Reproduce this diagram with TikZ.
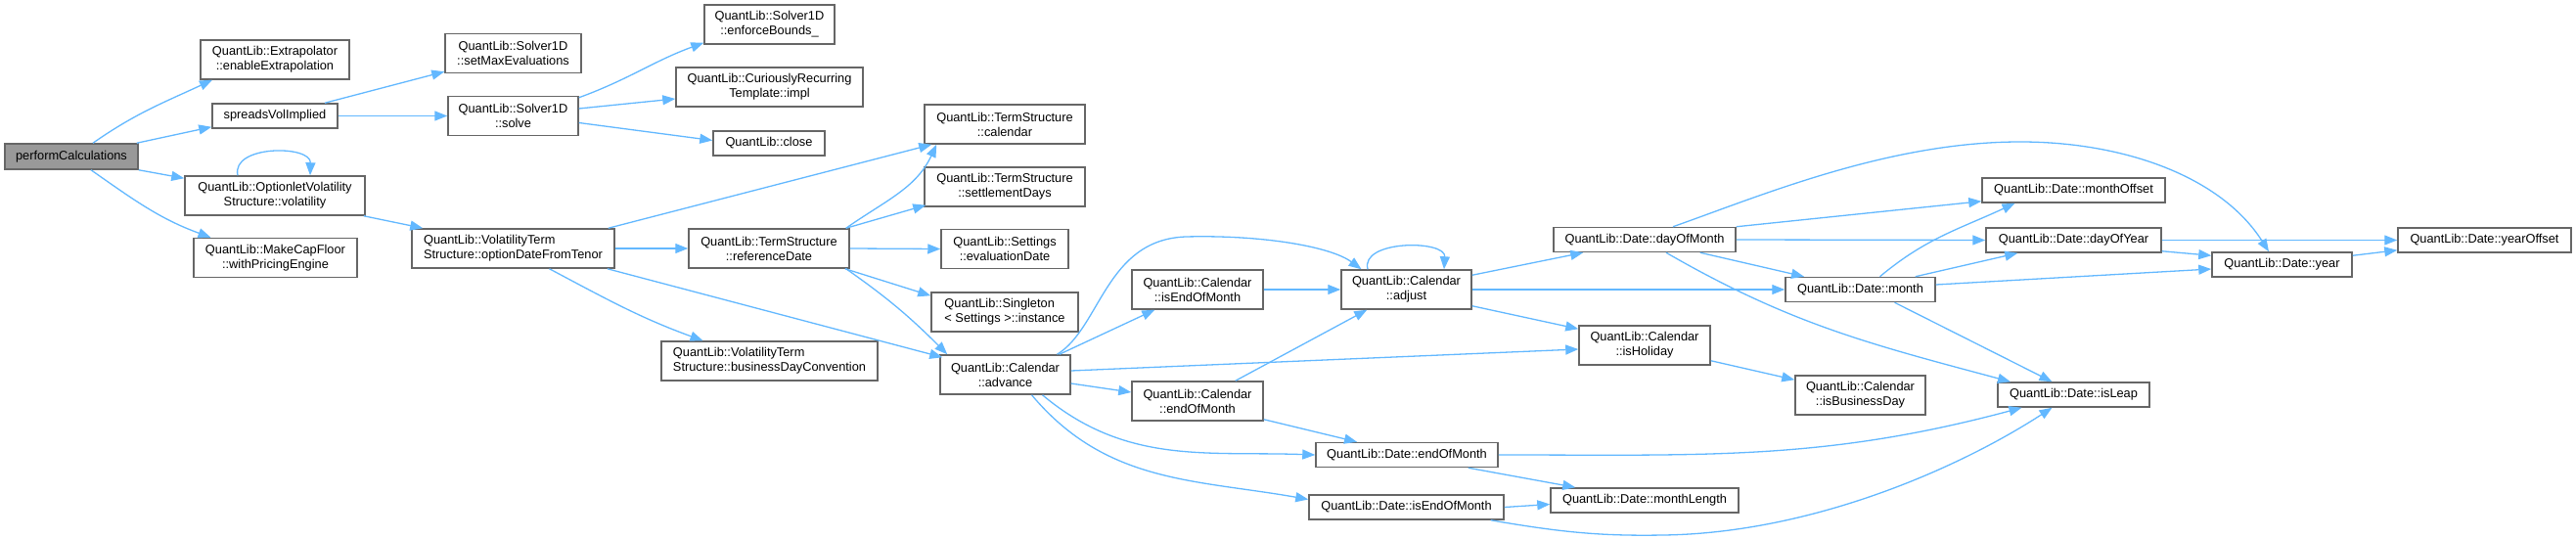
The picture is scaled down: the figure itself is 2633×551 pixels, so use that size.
\documentclass[tikz,border=0pt]{standalone}
\usepackage{fontspec}
\setmainfont{Liberation Sans}
\usetikzlibrary{arrows.meta}
\definecolor{boxline}{HTML}{666666}
\definecolor{rootfill}{HTML}{999999}
\definecolor{eblue}{HTML}{63B8FF}
\tikzset{
  fn/.style={draw=boxline, fill=white, line width=1.5pt, inner sep=0pt,
    font=\fontsize{12.8}{15}\selectfont, align=center},
  fnl/.style={fn, align=left},
  callarrow/.style={draw=eblue, line width=1.3pt, -{Triangle[length=13pt,width=10pt]}}
}
\begin{document}
\begin{tikzpicture}[x=1pt,y=-1pt]
\useasboundingbox (0,0) rectangle (2633,551);
% nodes
\node[fn, fill=rootfill, minimum width=136pt, minimum height=26pt] (pc) at (73,160) {performCalculations};
\node[fn, minimum width=152pt, minimum height=40pt] (ext) at (281,61) {QuantLib::Extrapolator\\::enableExtrapolation};
\node[fn, minimum width=128pt, minimum height=25pt] (svi) at (281,118.5) {spreadsVolImplied};
\node[fn, minimum width=184pt, minimum height=40pt] (olv) at (281,200) {QuantLib::OptionletVolatility\\Structure::volatility};
\node[fn, minimum width=167pt, minimum height=40pt] (mcf) at (281.5,263.5) {QuantLib::MakeCapFloor\\::withPricingEngine};
\node[fn, minimum width=139pt, minimum height=40pt] (smx) at (524.5,54.5) {QuantLib::Solver1D\\::setMaxEvaluations};
\node[fn, minimum width=133pt, minimum height=40pt] (solve) at (524.5,118.5) {QuantLib::Solver1D\\::solve};
\node[fnl, minimum width=207pt, minimum height=40pt] (odt) at (524.5,254) {QuantLib::VolatilityTerm\\Structure::optionDateFromTenor};
\node[fn, minimum width=133pt, minimum height=40pt] (enf) at (786.5,25) {QuantLib::Solver1D\\::enforceBounds\_};
\node[fn, minimum width=191pt, minimum height=40pt] (crt) at (786.5,89) {QuantLib::CuriouslyRecurring\\Template::impl};
\node[fn, minimum width=114pt, minimum height=25pt] (close) at (786,146.5) {QuantLib::close};
\node[fn, minimum width=164pt, minimum height=40pt] (refd) at (786,254) {QuantLib::TermStructure\\::referenceDate};
\node[fnl, minimum width=221pt, minimum height=40pt] (bdc) at (786.5,369) {QuantLib::VolatilityTerm\\Structure::businessDayConvention};
\node[fn, minimum width=164pt, minimum height=40pt] (cal) at (1027,127) {QuantLib::TermStructure\\::calendar};
\node[fn, minimum width=164pt, minimum height=40pt] (sd) at (1027,191) {QuantLib::TermStructure\\::settlementDays};
\node[fn, minimum width=130pt, minimum height=40pt] (evd) at (1027,254.5) {QuantLib::Settings\\::evaluationDate};
\node[fnl, minimum width=150pt, minimum height=40pt] (sing) at (1027,319) {QuantLib::Singleton\\< Settings >::instance};
\node[fn, minimum width=133pt, minimum height=40pt] (adv) at (1027.5,383) {QuantLib::Calendar\\::advance};
\node[fn, minimum width=134pt, minimum height=40pt] (ieom) at (1224,296) {QuantLib::Calendar\\::isEndOfMonth};
\node[fn, minimum width=134pt, minimum height=40pt] (ceom) at (1224,410) {QuantLib::Calendar\\::endOfMonth};
\node[fn, minimum width=133pt, minimum height=40pt] (adj) at (1437.5,296) {QuantLib::Calendar\\::adjust};
\node[fn, minimum width=186pt, minimum height=25pt] (deom) at (1438,465) {QuantLib::Date::endOfMonth};
\node[fn, minimum width=199pt, minimum height=25pt] (dieom) at (1437.5,518.5) {QuantLib::Date::isEndOfMonth};
\node[fn, minimum width=186pt, minimum height=25pt] (dom) at (1681,245) {QuantLib::Date::dayOfMonth};
\node[fn, minimum width=134pt, minimum height=40pt] (hol) at (1681,353) {QuantLib::Calendar\\::isHoliday};
\node[fn, minimum width=192pt, minimum height=25pt] (mlen) at (1681,511.5) {QuantLib::Date::monthLength};
\node[fn, minimum width=153pt, minimum height=25pt] (month) at (1901.5,296) {QuantLib::Date::month};
\node[fn, minimum width=133pt, minimum height=40pt] (bday) at (1901.5,404) {QuantLib::Calendar\\::isBusinessDay};
\node[fn, minimum width=187pt, minimum height=25pt] (moff) at (2119.5,194.5) {QuantLib::Date::monthOffset};
\node[fn, minimum width=179pt, minimum height=25pt] (doy) at (2119.5,245.5) {QuantLib::Date::dayOfYear};
\node[fn, minimum width=155pt, minimum height=25pt] (leap) at (2119.5,403.5) {QuantLib::Date::isLeap};
\node[fn, minimum width=143pt, minimum height=25pt] (year) at (2332.5,270.5) {QuantLib::Date::year};
\node[fn, minimum width=177pt, minimum height=25pt] (yoff) at (2539.5,245.5) {QuantLib::Date::yearOffset};
% edges
\draw[callarrow] ([xshift=22pt]pc.north) to[out=35,in=-155] ([xshift=-64pt]ext.south);
\draw[callarrow] ([xshift=-2pt]pc.north east) -- ([yshift=2pt]svi.south west);
\draw[callarrow] (pc.south east) -- ([yshift=-3pt]olv.north west);
\draw[callarrow] ([xshift=20pt]pc.south) to[out=-35,in=160] ([xshift=-66pt]mcf.north);
\draw[callarrow] ([xshift=51pt]svi.north) -- ([yshift=2pt]smx.south west);
\draw[callarrow] (svi.east) -- (solve.west);
\draw[callarrow] ([yshift=-2pt]solve.north east) to[out=20,in=-160] ([yshift=2pt]enf.south west);
\draw[callarrow] ([yshift=7.5pt]solve.east) -- ([yshift=-12pt]crt.west);
\draw[callarrow] ([yshift=-7pt]solve.east) -- ([yshift=3pt]close.west);
\draw[callarrow] ([xshift=-38pt]olv.north) .. controls (236,148) and (318,148) .. ([xshift=36pt]olv.north);
\draw[callarrow] ([xshift=-2pt]olv.south east) -- ([xshift=12pt]odt.north west);
\draw[callarrow] ([xshift=-7pt]odt.north east) -- ([xshift=8pt]cal.south west);
\draw[callarrow] (odt.east) -- (refd.west);
\draw[callarrow] ([xshift=37pt]odt.south) to[out=-28,in=160] ([xshift=-68pt]bdc.north);
\draw[callarrow] ([xshift=-8pt]odt.south east) -- ([xshift=3pt,yshift=-3pt]adv.north west);
\draw[callarrow] ([xshift=-4pt]refd.north east) to[out=35,in=-115] ([xshift=13pt]cal.south west);
\draw[callarrow] ([xshift=-4pt]refd.north east) -- ([xshift=2pt,yshift=2pt]sd.south west);
\draw[callarrow] (refd.east) -- (evd.west);
\draw[callarrow] ([xshift=-5pt]refd.south east) -- ([yshift=-4pt]sing.north west);
\draw[callarrow] ([xshift=-4pt]refd.south east) to[out=-35,in=135] ([xshift=8pt]adv.north west);
\draw[callarrow] ([xshift=53pt]adv.north) .. controls (1125,335) and (1130,245) .. (1212,242) .. controls (1290,240) and (1360,252) .. ([xshift=-46pt]adj.north);
\draw[callarrow] ([xshift=-12pt]adv.north east) -- ([xshift=24pt]ieom.south west);
\draw[callarrow] ([yshift=4pt]adv.east) -- ([yshift=-4pt]hol.west);
\draw[callarrow] ([yshift=-9pt]adv.east) -- ([yshift=9pt]ceom.west);
\draw[callarrow] ([xshift=38pt]adv.south) to[out=-40,in=178] (deom.west);
\draw[callarrow] ([xshift=27pt]adv.south) to[out=-50,in=170] ([yshift=8pt]dieom.west);
\draw[callarrow] (ieom.east) -- (adj.west);
\draw[callarrow] ([xshift=-29pt]ceom.north east) -- ([xshift=27pt]adj.south west);
\draw[callarrow] ([yshift=2pt]ceom.south east) -- ([xshift=-51pt]deom.north);
\draw[callarrow] ([xshift=-39.5pt]adj.north) .. controls (1390,245) and (1478,245) .. ([xshift=38.5pt]adj.north);
\draw[callarrow] ([yshift=-6pt]adj.north east) -- ([xshift=31pt]dom.south west);
\draw[callarrow] (adj.east) -- (month.west);
\draw[callarrow] ([yshift=4pt]adj.south east) -- ([yshift=-4pt]hol.north west);
\draw[callarrow] ([yshift=5pt]hol.south east) -- ([yshift=-5pt]bday.north west);
\draw[callarrow] ([xshift=29pt]dom.north) .. controls (1800,200) and (1930,145) .. (2065,145) .. controls (2170,145) and (2270,180) .. ([xshift=-13.5pt]year.north);
\draw[callarrow] (dom.north east) -- ([yshift=2pt]moff.south west);
\draw[callarrow] (dom.east) -- (doy.west);
\draw[callarrow] ([xshift=-37pt]dom.south east) -- ([xshift=-57.5pt]month.north);
\draw[callarrow] ([xshift=22pt]dom.south) to[out=-30,in=165] ([xshift=-64.5pt]leap.north);
\draw[callarrow] ([xshift=20pt]month.north) to[out=40,in=-155] ([xshift=-60pt]moff.south);
\draw[callarrow] ([xshift=-21pt]month.north east) -- ([xshift=33pt]doy.south west);
\draw[callarrow] ([yshift=5pt]month.east) -- ([yshift=-4.5pt]year.west);
\draw[callarrow] ([xshift=35pt]month.south) -- ([xshift=-22pt]leap.north);
\draw[callarrow] (doy.east) -- (yoff.west);
\draw[callarrow] ([yshift=2pt]doy.south east) -- ([yshift=-4pt]year.north west);
\draw[callarrow] ([yshift=-4pt]year.north east) -- ([yshift=3pt]yoff.south west);
\draw[callarrow] (deom.east) to[out=0,in=-165] ([xshift=-53pt]leap.south);
\draw[callarrow] ([xshift=-31pt]deom.south east) -- ([xshift=26pt]mlen.north west);
\draw[callarrow] (dieom.east) -- ([yshift=-4pt]mlen.west);
\draw[callarrow] ([xshift=-14pt]dieom.south east) .. controls (1600,545) and (1640,548) .. (1700,547) .. controls (1850,545) and (2000,480) .. ([xshift=-22pt]leap.south);
\end{tikzpicture}
\end{document}
